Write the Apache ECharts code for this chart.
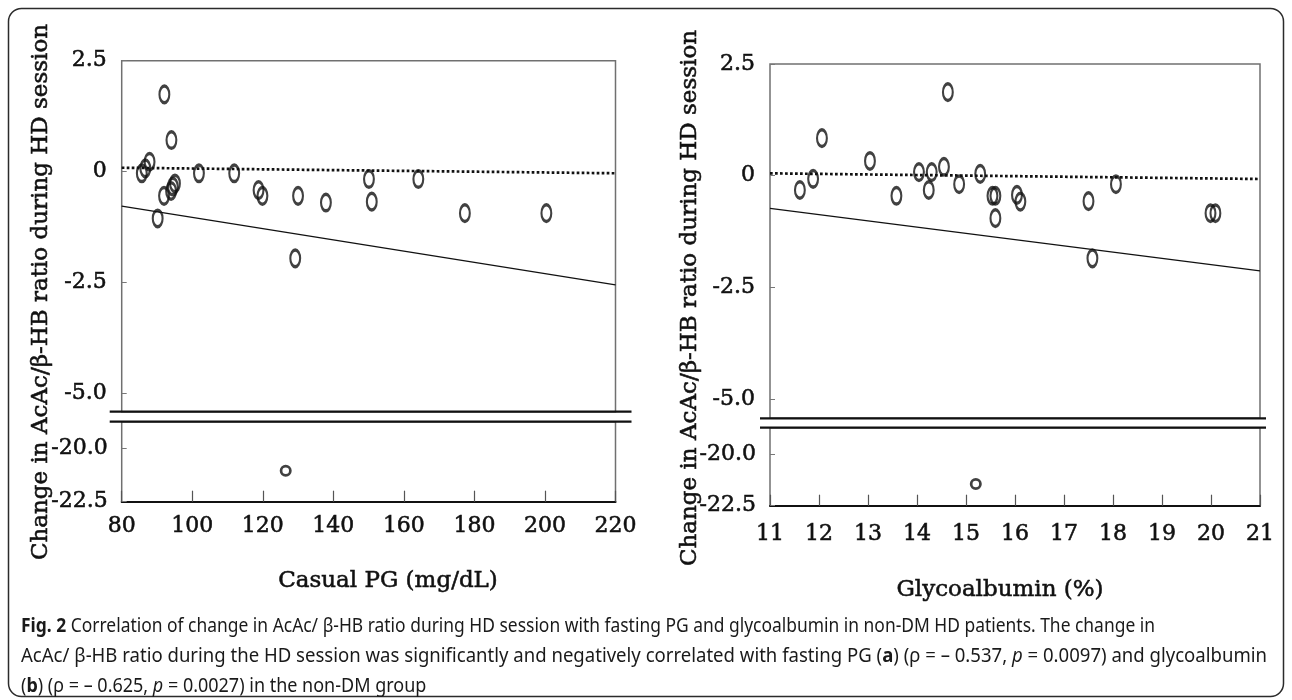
<!DOCTYPE html>
<html>
<head>
<meta charset="utf-8">
<script src="https://cdn.jsdelivr.net/npm/echarts@6/dist/echarts.min.js"></script>
<style>
html,body{margin:0;padding:0;background:#fff;}
#c{width:1292px;height:700px;}
</style>
</head>
<body>
<div id="c"></div>
<script>
// ---------- Panel a : Casual PG ----------
const pgX = [92.1, 94.1, 87.9, 86.7, 85.7, 101.9, 111.9, 95.1, 94.5, 94.0, 92.0, 90.2, 118.8, 119.9, 129.2, 130.0, 137.9, 150.1, 150.9, 164.1, 177.3, 200.4];
const pgY = [1.74, 0.71, 0.22, 0.07, -0.04, -0.04, -0.04, -0.27, -0.34, -0.44, -0.55, -1.06, -0.42, -0.55, -1.96, -0.55, -0.70, -0.17, -0.68, -0.17, -0.94, -0.94];
const pgLowX = [126.5];
const pgLowY = [-21.05];
const pgLineX = [80, 220];
const pgFitY = [-0.78, -2.56];
const pgRefY = [0.085, -0.04];

// ---------- Panel b : Glycoalbumin ----------
const gaX = [11.61, 11.88, 12.06, 13.04, 13.58, 14.04, 14.24, 14.30, 14.55, 14.63, 14.86, 15.29, 15.54, 15.60, 15.60, 16.04, 16.11, 17.50, 17.58, 18.06, 19.99, 20.09];
const gaY = [-0.32, -0.07, 0.84, 0.33, -0.45, 0.08, -0.32, 0.08, 0.20, 1.87, -0.19, 0.04, -0.45, -0.45, -0.95, -0.43, -0.58, -0.57, -1.85, -0.19, -0.84, -0.84];
const gaLowX = [15.20];
const gaLowY = [-21.45];
const gaLineX = [11, 21];
const gaFitY = [-0.73, -2.13];
const gaRefY = [0.053, -0.074];

// ---------- Tick labels ----------
const yTicksUpper = [2.5, 0, -2.5, -5.0];
const yLabelsUpper = ['2.5', '0', '-2.5', '-5.0'];
const yTicksLower = [-20.0, -22.5];
const yLabelsLower = ['-20.0', '-22.5'];

const yTitle = 'Change in AcAc/\u03b2-HB ratio during HD session';
const xTitleA = 'Casual PG (mg/dL)';
const xTitleB = 'Glycoalbumin (%)';

const zip = (xs, ys) => xs.map((x, i) => [x, ys[i]]);
const SERIF = 'DejaVu Serif';
const TICK_SIZE = 22;
const TITLE_SIZE = 23;
const INK = '#111';
const HEAVY = 0.55; // slight text stroke to mimic the heavier reference serif

function upperLabel(v) {
  const i = yTicksUpper.findIndex(t => Math.abs(t - v) < 1e-6);
  return i >= 0 ? yLabelsUpper[i] : '';
}
function lowerLabel(v) {
  const i = yTicksLower.findIndex(t => Math.abs(t - v) < 1e-6);
  return i >= 0 ? yLabelsLower[i] : '';
}

// layout (pixels)
const G = {
  aUp:  {left: 121.7, top: 60.7,  width: 493.8, height: 351},
  aLow: {left: 121.7, top: 421.7, width: 493.8, height: 80},
  bUp:  {left: 770,   top: 64,    width: 490,   height: 354.3},
  bLow: {left: 770,   top: 427.7, width: 490,   height: 78}
};
const gridStyle = {show: true, borderColor: '#707070', borderWidth: 1.5, backgroundColor: '#fff'};
const tickFont = {fontFamily: SERIF, fontSize: TICK_SIZE, color: INK, textBorderColor: INK, textBorderWidth: HEAVY};

function yUpper(gi, min) {
  return {
    gridIndex: gi, type: 'value', min: min, max: 2.5,
    axisLine: {show: false}, splitLine: {show: false},
    axisTick: {show: true, inside: true, length: 5, customValues: yTicksUpper, lineStyle: {color: '#777', width: 1}},
    axisLabel: Object.assign({customValues: yTicksUpper, formatter: upperLabel, margin: 15}, tickFont)
  };
}
function yLower(gi, max) {
  return {
    gridIndex: gi, type: 'value', min: -22.5, max: max,
    axisLine: {show: false}, splitLine: {show: false},
    axisTick: {show: true, inside: true, length: 5, customValues: yTicksLower, lineStyle: {color: '#777', width: 1}},
    axisLabel: Object.assign({customValues: yTicksLower, formatter: lowerLabel, margin: 14}, tickFont)
  };
}
function xHidden(gi, min, max) {
  return {gridIndex: gi, type: 'value', min: min, max: max, show: false, splitLine: {show: false}};
}
function xShown(gi, min, max, interval, margin) {
  return {
    gridIndex: gi, type: 'value', min: min, max: max, interval: interval,
    axisLine: {show: true, onZero: false, lineStyle: {color: INK, width: 2}},
    axisTick: {show: true, inside: true, length: 11, lineStyle: {color: '#555', width: 1.2}},
    axisLabel: Object.assign({margin: margin}, tickFont),
    splitLine: {show: false}
  };
}

const ellipse = {
  type: 'scatter', symbol: 'circle', symbolSize: [9.8, 16.6], silent: true,
  itemStyle: {color: 'rgba(0,0,0,0)', borderColor: INK, borderWidth: 2.7},
  emphasis: {disabled: true}, z: 5
};
const smallCircle = {
  type: 'scatter', symbol: 'circle', symbolSize: 9.3, silent: true,
  itemStyle: {color: 'rgba(0,0,0,0)', borderColor: INK, borderWidth: 2.7},
  emphasis: {disabled: true}, z: 5
};
function fitLine(xi, yi, data) {
  return {type: 'line', xAxisIndex: xi, yAxisIndex: yi, data: data, symbol: 'none', silent: true,
    lineStyle: {color: INK, width: 1.2}, z: 3};
}
function refLine(xi, yi, data) {
  return {type: 'line', xAxisIndex: xi, yAxisIndex: yi, data: data, symbol: 'none', silent: true,
    lineStyle: {color: INK, width: 2.7, type: [2.7, 2.3]}, z: 3};
}

// caption
const CAP_FONT = 'Noto Sans';
const CAP_SIZE = 19;
const captionLines = [
  [['b', 'Fig. 2'], ['n', ' Correlation of change in AcAc/ \u03b2-HB ratio during HD session with fasting PG and glycoalbumin in non-DM HD patients. The change in']],
  [['n', 'AcAc/ \u03b2-HB ratio during the HD session was significantly and negatively correlated with fasting PG ('], ['b', 'a'], ['n', ') (\u03c1 = \u2013 0.537, '], ['i', 'p'], ['n', ' = 0.0097) and glycoalbumin']],
  [['n', '('], ['b', 'b'], ['n', ') (\u03c1 = \u2013 0.625, '], ['i', 'p'], ['n', ' = 0.0027) in the non-DM group']]
];
const capTargetW = [1134, 1246, null];
const capY = [627, 657, 687];
const capX = 21;

const ctx = document.createElement('canvas').getContext('2d');
function segFont(k) {
  return (k === 'b' ? 'bold ' : k === 'i' ? 'italic ' : '') + CAP_SIZE + 'px "' + CAP_FONT + '"';
}
function measureLine(line) {
  let w = 0;
  line.forEach(s => { ctx.font = segFont(s[0]); w += ctx.measureText(s[1]).width; });
  return w;
}
const scales = captionLines.map((l, i) => capTargetW[i] ? capTargetW[i] / measureLine(l) : null);
const avgScale = (scales[0] + scales[1]) / 2;

const capRich = {
  n: {fontFamily: CAP_FONT, fontSize: CAP_SIZE, fill: '#1a1a1a'},
  b: {fontFamily: CAP_FONT, fontSize: CAP_SIZE, fontWeight: 'bold', fill: '#1a1a1a'},
  i: {fontFamily: CAP_FONT, fontSize: CAP_SIZE, fontStyle: 'italic', fill: '#1a1a1a'}
};

function serifText(x, y, text, rot) {
  return {type: 'text', x: x, y: y, rotation: rot || 0, silent: true,
    style: {text: text, fontFamily: SERIF, fontSize: TITLE_SIZE, fill: INK, stroke: INK, lineWidth: HEAVY,
      textAlign: 'center', textVerticalAlign: 'middle'}};
}

const graphics = [
  {type: 'rect', shape: {x: 8.5, y: 8.5, width: 1275, height: 688, r: 13}, style: {fill: 'none', stroke: '#2b2b2b', lineWidth: 1.5}, z: -10, silent: true},
  // axis break double lines
  {type: 'line', shape: {x1: G.aUp.left - 12, y1: G.aUp.top + G.aUp.height, x2: G.aUp.left + G.aUp.width + 16, y2: G.aUp.top + G.aUp.height}, style: {stroke: INK, lineWidth: 2.2}, z: 100, silent: true},
  {type: 'line', shape: {x1: G.aLow.left - 12, y1: G.aLow.top, x2: G.aLow.left + G.aLow.width + 16, y2: G.aLow.top}, style: {stroke: INK, lineWidth: 2.2}, z: 100, silent: true},
  {type: 'line', shape: {x1: G.bUp.left - 10, y1: G.bUp.top + G.bUp.height, x2: G.bUp.left + G.bUp.width + 6, y2: G.bUp.top + G.bUp.height}, style: {stroke: INK, lineWidth: 2.2}, z: 100, silent: true},
  {type: 'line', shape: {x1: G.bLow.left - 10, y1: G.bLow.top, x2: G.bLow.left + G.bLow.width + 6, y2: G.bLow.top}, style: {stroke: INK, lineWidth: 2.2}, z: 100, silent: true},
  // axis titles
  serifText(41.5, 292, yTitle, Math.PI / 2),
  serifText(690, 298, yTitle, Math.PI / 2),
  serifText(388, 581, xTitleA),
  serifText(1000, 590, xTitleB)
];
captionLines.forEach((line, i) => {
  const txt = line.map(s => '{' + s[0] + '|' + s[1] + '}').join('');
  graphics.push({
    type: 'text', x: capX, y: capY[i], scaleX: scales[i] || avgScale, silent: true,
    style: {text: txt, rich: capRich, fontFamily: CAP_FONT, fontSize: CAP_SIZE, fill: '#1a1a1a', textAlign: 'left', textVerticalAlign: 'middle'}
  });
});

const option = {
  animation: false,
  backgroundColor: '#fff',
  grid: [
    Object.assign({}, G.aUp, gridStyle),
    Object.assign({}, G.aLow, gridStyle),
    Object.assign({}, G.bUp, gridStyle),
    Object.assign({}, G.bLow, gridStyle)
  ],
  xAxis: [
    xHidden(0, 80, 220),
    xShown(1, 80, 220, 20, 14),
    xHidden(2, 11, 21),
    xShown(3, 11, 21, 1, 18)
  ],
  yAxis: [
    yUpper(0, -5.42),
    yLower(1, -18.755),
    yUpper(2, -5.43),
    yLower(3, -18.73)
  ],
  series: [
    Object.assign({}, ellipse, {xAxisIndex: 0, yAxisIndex: 0, data: zip(pgX, pgY)}),
    Object.assign({}, smallCircle, {xAxisIndex: 1, yAxisIndex: 1, data: zip(pgLowX, pgLowY)}),
    fitLine(0, 0, zip(pgLineX, pgFitY)),
    refLine(0, 0, zip(pgLineX, pgRefY)),
    Object.assign({}, ellipse, {xAxisIndex: 2, yAxisIndex: 2, data: zip(gaX, gaY)}),
    Object.assign({}, smallCircle, {xAxisIndex: 3, yAxisIndex: 3, data: zip(gaLowX, gaLowY)}),
    fitLine(2, 2, zip(gaLineX, gaFitY)),
    refLine(2, 2, zip(gaLineX, gaRefY))
  ],
  graphic: {elements: graphics}
};

const chart = echarts.init(document.getElementById('c'), null, {renderer: 'canvas'});
chart.setOption(option);
</script>
</body>
</html>
